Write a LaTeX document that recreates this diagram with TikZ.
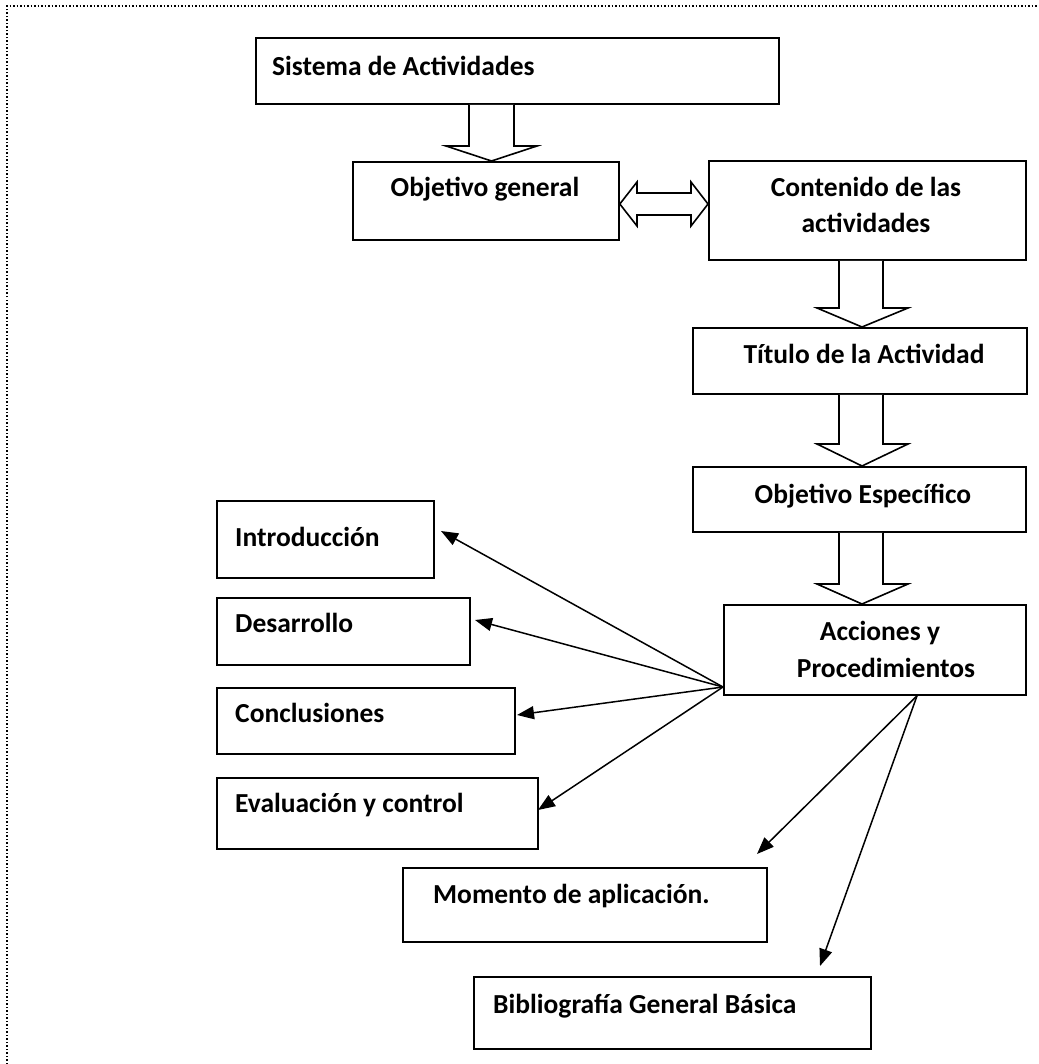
\documentclass[tikz,border=0pt]{standalone}
\usepackage{fontspec}
\setmainfont{Carlito}
\usetikzlibrary{arrows.meta,calc}
\begin{document}
\begin{tikzpicture}[x=1pt,y=-1pt,
  box/.style={draw, line width=1.8pt, inner sep=0pt, anchor=north west},
  lbl/.style={inner sep=0pt, font=\fontsize{27.5}{33}\selectfont\bfseries},
  barrow/.style={draw, line width=1.6pt, line join=miter, fill=white},
  conn/.style={line width=1.5pt, -{Triangle[length=17pt,width=13pt]}},
  framedots/.style={line width=1.5pt, dash pattern=on 1.5pt off 2pt}]
\useasboundingbox (0,0) rectangle (1038,1064);
% frame
\draw[framedots] (7,1064) -- (7,6) -- (1038,6);
% boxes
\node[box, minimum width=523pt, minimum height=66pt] (sis) at (255,37) {};
\node[box, minimum width=266pt, minimum height=78pt] (obj) at (352,161) {};
\node[box, minimum width=317pt, minimum height=99pt] (cont) at (708,160) {};
\node[box, minimum width=334pt, minimum height=66pt] (tit) at (692,327) {};
\node[box, minimum width=333pt, minimum height=65pt] (oe) at (692,466) {};
\node[box, minimum width=302pt, minimum height=90pt] (acc) at (723,604) {};
\node[box, minimum width=217pt, minimum height=77pt] (intro) at (216,500) {};
\node[box, minimum width=253pt, minimum height=67pt] (des) at (216,597) {};
\node[box, minimum width=298pt, minimum height=66pt] (conc) at (216,687) {};
\node[box, minimum width=321pt, minimum height=71pt] (eval) at (216,777) {};
\node[box, minimum width=364pt, minimum height=74pt] (mom) at (402,867) {};
\node[box, minimum width=397pt, minimum height=72pt] (bib) at (473,976) {};
% labels
\node[lbl, anchor=base west] (sisT) at (272,76) {Sistema de Actividades};
\node[lbl, anchor=base] (objT) at (485,197) {Objetivo general};
\node[lbl, anchor=base] (contT1) at (866,197) {Contenido de las};
\node[lbl, anchor=base] (contT2) at (866,233) {actividades};
\node[lbl, anchor=base] (titT) at (864,363) {Título de la Actividad};
\node[lbl, anchor=base] (oeT) at (863,503) {Objetivo Específico};
\node[lbl, anchor=base] (accT1) at (880,640) {Acciones y};
\node[lbl, anchor=base] (accT2) at (886,677) {Procedimientos};
\node[lbl, anchor=base west] (introT) at (235,546) {Introducción};
\node[lbl, anchor=base west] (desT) at (235,632) {Desarrollo};
\node[lbl, anchor=base west] (concT) at (235,722) {Conclusiones};
\node[lbl, anchor=base west] (evalT) at (235,812) {Evaluación y control};
\node[lbl, anchor=base west] (momT) at (433,903) {Momento de aplicación.};
\node[lbl, anchor=base west] (bibT) at (493,1013) {Bibliografía General Básica};
% block arrows
\draw[barrow] (469,0 |- sis.south) -- (469,146) -- (446,146) -- (491.5,0 |- obj.north)
  -- (537,146) -- (514,146) -- (514,0 |- sis.south);
\draw[barrow] (obj.east |- 0,204) -- (637,182) -- (637,193) -- (691,193) -- (691,182)
  -- (cont.west |- 0,204) -- (691,226) -- (691,215) -- (637,215) -- (637,226) -- cycle;
\draw[barrow] (839,0 |- cont.south) -- (839,308) -- (817,308) -- (862,0 |- tit.north)
  -- (908,308) -- (883,308) -- (883,0 |- cont.south);
\draw[barrow] (839,0 |- tit.south) -- (839,444) -- (817,444) -- (862,0 |- oe.north)
  -- (908,444) -- (883,444) -- (883,0 |- tit.south);
\draw[barrow] (839,0 |- oe.south) -- (839,584) -- (817,584) -- (862,0 |- acc.north)
  -- (908,584) -- (883,584) -- (883,0 |- oe.south);
% thin arrows
\coordinate (fanL) at (acc.west |- 0,687);
\coordinate (fanB) at (917,0 |- acc.south);
\coordinate (eIntro) at (441,531);
\coordinate (eDes) at (475,620);
\coordinate (eConc) at (517,715);
\coordinate (eEval) at (538,810);
\coordinate (eMom) at (757,854);
\coordinate (eBib) at (820,966);
\draw[conn] (fanL) -- (eIntro);
\draw[conn] (fanL) -- (eDes);
\draw[conn] (fanL) -- (eConc);
\draw[conn] (fanL) -- (eEval);
\draw[conn] (fanB) -- (eMom);
\draw[conn] (fanB) -- (eBib);
\end{tikzpicture}
\end{document}
